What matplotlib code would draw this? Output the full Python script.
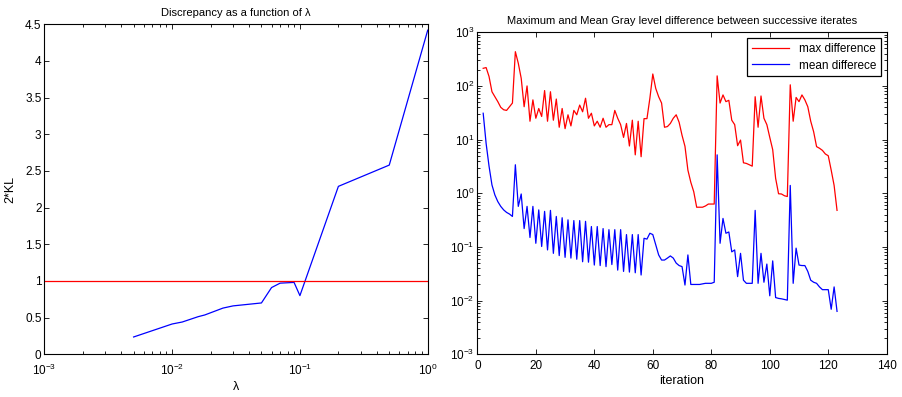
import numpy as np
import matplotlib
matplotlib.use("Agg")
import matplotlib.pyplot as plt
from matplotlib.ticker import LogLocator, FixedLocator, NullFormatter

plt.rcParams['font.family'] = ['Liberation Sans', 'DejaVu Sans']
plt.rcParams['mathtext.fontset'] = 'custom'
plt.rcParams['mathtext.rm'] = 'Liberation Sans'
plt.rcParams['mathtext.it'] = 'Liberation Sans'

# Left panel data
lambdas = [0.005, 0.01, 0.012, 0.016, 0.018, 0.021, 0.025, 0.03, 0.05,
           0.06, 0.07, 0.09, 0.1, 0.2, 0.5, 1.0]
kl2 = [0.236, 0.413, 0.44, 0.513, 0.536, 0.58, 0.63, 0.66, 0.70,
       0.91, 0.97, 0.98, 0.80, 2.29, 2.58, 4.42]
threshold = 1.0

# Right panel data
iterations = list(range(2, 124))
max_diff = [213, 220, 150, 78, 63, 51, 40, 36, 35, 41, 48,
            435, 265, 139, 41, 100, 22, 55, 25, 38, 27, 82, 22, 78, 23, 57, 17,
            38, 16, 29, 18, 35, 29, 44, 33, 59, 25, 31, 18, 22, 17, 25, 17,
            19, 19, 35, 25, 19, 11, 20, 7.6, 23, 5.2, 22, 4.8, 24.6, 24.6,
            59, 167, 90, 63, 48, 17, 17.5, 20, 25, 29, 21, 12, 7.5, 2.7,
            1.6, 1.07, 0.55, 0.55, 0.55, 0.58, 0.63, 0.63, 0.63,
            154, 48, 68, 51, 54, 23, 19, 7.7, 9.8, 3.7, 3.6, 3.4, 3.2,
            63, 17, 65, 25, 19, 11, 6.5, 1.9, 0.98, 0.97, 0.9, 0.87,
            105, 22, 61, 51, 68, 55, 41, 22, 14, 7.4, 6.9, 6.3, 5.4, 5.0,
            2.7, 1.4, 0.48]
mean_diff = [31, 8.5, 3.2, 1.43, 0.93, 0.70, 0.57, 0.49, 0.44, 0.41, 0.37,
             3.4, 0.57, 0.97, 0.22, 0.57, 0.15, 0.57, 0.117, 0.49, 0.102,
             0.46, 0.088, 0.48, 0.076, 0.37, 0.069, 0.35, 0.064, 0.32, 0.062,
             0.31, 0.059, 0.31, 0.053, 0.30, 0.052, 0.24, 0.046, 0.24, 0.045,
             0.22, 0.043, 0.21, 0.047, 0.21, 0.037, 0.21, 0.035, 0.17, 0.034,
             0.17, 0.033, 0.17, 0.030, 0.145, 0.14, 0.18, 0.17, 0.11, 0.071,
             0.057, 0.057, 0.062, 0.068, 0.062, 0.050, 0.045, 0.043, 0.0195,
             0.071, 0.020, 0.020, 0.020, 0.020, 0.0205, 0.021, 0.021, 0.021,
             0.022, 5.2, 0.117, 0.34, 0.18, 0.19, 0.081, 0.088, 0.028, 0.076,
             0.024, 0.021, 0.021, 0.021, 0.48, 0.021, 0.076, 0.022, 0.048,
             0.0123, 0.055, 0.0114, 0.011, 0.0108, 0.0105, 0.0102, 1.4, 0.021,
             0.095, 0.046, 0.045, 0.045, 0.035, 0.024, 0.022, 0.021, 0.018,
             0.016, 0.016, 0.016, 0.0069, 0.018, 0.0063]

fig = plt.figure(figsize=(9.02, 3.97), dpi=100)

def style(ax):
    ax.tick_params(which='both', direction='in', top=True, right=True,
                   labelsize=8.5, colors='black', width=0.6)
    ax.tick_params(which='major', length=3.5)
    ax.tick_params(which='minor', length=2)
    ax.tick_params(axis='y', which='both', pad=2)
    ax.tick_params(axis='x', which='both', pad=6)
    for s in ax.spines.values():
        s.set_linewidth(0.8)

# Left
ax1 = fig.add_axes([0.0491, 0.1076, 0.4251, 0.8312])
ax1.semilogx(lambdas, kl2, color='#0000ff', lw=0.9)
ax1.axhline(threshold, color='#ff0000', lw=0.9)
ax1.set_xlim(1e-3, 1)
ax1.set_ylim(0, 4.5)
ax1.set_yticks(np.arange(0, 4.51, 0.5))
ax1.set_yticklabels(['0', '0.5', '1', '1.5', '2', '2.5', '3', '3.5', '4', '4.5'])
ax1.xaxis.set_major_locator(FixedLocator([1e-3, 1e-2, 1e-1, 1]))
ax1.xaxis.set_minor_locator(LogLocator(base=10, subs=np.arange(2, 10), numticks=20))
ax1.xaxis.set_minor_formatter(NullFormatter())
style(ax1)
ax1.set_title('Discrepancy as a function of λ', fontsize=8, pad=6)
ax1.set_xlabel('λ', fontsize=9, labelpad=2)
ax1.set_ylabel('2*KL', fontsize=9, labelpad=6)

# Right
ax2 = fig.add_axes([0.5292, 0.1076, 0.4539, 0.8111])
ax2.semilogy(iterations, max_diff, color='#ff0000', lw=0.9, label='max difference')
ax2.semilogy(iterations, mean_diff, color='#0000ff', lw=0.9, label='mean differece')
ax2.set_xlim(0, 140)
ax2.set_ylim(1e-3, 1e3)
ax2.set_xticks(np.arange(0, 141, 20))
ax2.yaxis.set_major_locator(FixedLocator([1e-3, 1e-2, 1e-1, 1, 10, 100, 1000]))
ax2.yaxis.set_minor_locator(LogLocator(base=10, subs=np.arange(2, 10), numticks=20))
ax2.yaxis.set_minor_formatter(NullFormatter())
style(ax2)
ax2.tick_params(axis='x', which='both', pad=4)
ax2.set_title('Maximum and Mean Gray level difference between successive iterates',
              fontsize=8, pad=6)
ax2.set_xlabel('iteration', fontsize=9, labelpad=2)
leg = ax2.legend(loc='upper right', fontsize=8.5, fancybox=False, framealpha=1,
                 edgecolor='black', borderaxespad=0.5, handlelength=3.2,
                 labelspacing=0.4)
leg.get_frame().set_linewidth(0.9)

fig.savefig('out.png', dpi=100)
